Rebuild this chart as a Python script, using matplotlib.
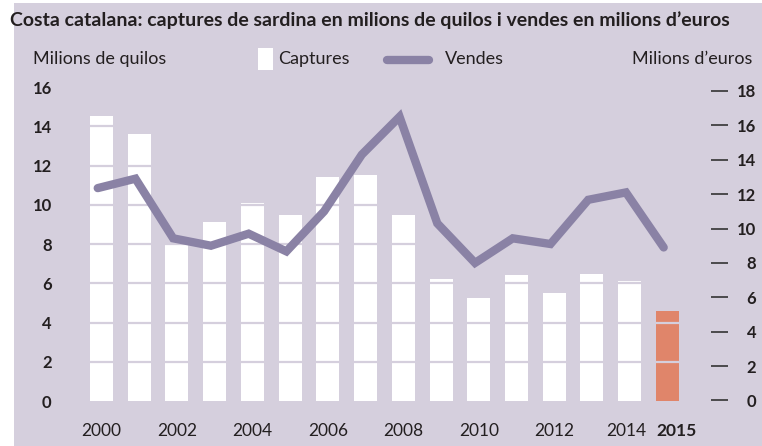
import matplotlib
matplotlib.use("Agg")
import matplotlib.pyplot as plt
from matplotlib.patches import Rectangle
from matplotlib.lines import Line2D
from matplotlib.transforms import ScaledTranslation

W, H = 762, 446
BG = "#d5cfdd"
LINE_C = "#8a82a5"
BAR_C = "white"
LAST_C = "#e0856a"
TXT = "#231f20"

years = list(range(2000, 2016))
captures = [14.5, 13.6, 8.0, 9.1, 10.1, 9.5, 11.4, 11.5, 9.5,
            6.2, 5.25, 6.43, 5.5, 6.46, 6.1, 4.6]
vendes = [12.35, 12.9, 9.43, 9.0, 9.7, 8.67, 11.0, 14.3, 16.5,
          10.3, 8.0, 9.43, 9.1, 11.67, 12.1, 8.9]
xtick_years = [2000, 2002, 2004, 2006, 2008, 2010, 2012, 2014, 2015]
left_ticks = list(range(0, 17, 2))
right_ticks = list(range(0, 19, 2))

plt.rcParams["font.family"] = ["Lato", "DejaVu Sans"]


def fx(px):
    return px / W


def fy(py):
    return 1 - py / H


fig = plt.figure(figsize=(W / 100, H / 100), dpi=100)
fig.patches.append(Rectangle((fx(14), 0), 1 - fx(14), fy(3), transform=fig.transFigure,
                             facecolor=BG, edgecolor="none", zorder=-10))

# axes box in pixels: left 60, right 711, top 77, bottom 401
ax = fig.add_axes([fx(60), fy(401), fx(711) - fx(60), fy(77) - fy(401)])
ax.set_facecolor("none")
px_per_year = 37.73
ax.set_xlim(2000 - (101.5 - 60) / px_per_year, 2000 + (711 - 101.5) / px_per_year)
ax.set_ylim(0, (401 - 77) / 19.625)

colors = [BAR_C] * (len(years) - 1) + [LAST_C]
ax.bar(years, captures, width=0.61, color=colors, zorder=2)
for t in left_ticks[1:]:
    ax.axhline(t, color=BG, linewidth=1.6, zorder=3)

for s in ax.spines.values():
    s.set_visible(False)
ax.set_yticks(left_ticks)
ax.tick_params(axis="y", length=0, pad=6, labelsize=12, labelcolor=TXT)
for lab in ax.get_yticklabels():
    lab.set_fontweight("bold")
ax.set_xticks(xtick_years)
ax.set_xticklabels([str(y) for y in xtick_years])
ax.tick_params(axis="x", length=0, pad=16, labelsize=12.5, labelcolor=TXT)
xlabs = ax.get_xticklabels()
xlabs[-1].set_fontweight("bold")
# nudge the last two labels apart like the original
xlabs[-2].set_transform(xlabs[-2].get_transform() + ScaledTranslation(-3 / 100, 0, fig.dpi_scale_trans))
xlabs[-1].set_transform(xlabs[-1].get_transform() + ScaledTranslation(9 / 100, 0, fig.dpi_scale_trans))

ax2 = ax.twinx()
ax2.set_ylim(-0.03, (401.5 - 77) / 17.25)
ax2.plot([y - 0.1 for y in years], vendes, color=LINE_C, linewidth=6,
         solid_capstyle="round", solid_joinstyle="miter", zorder=5)
for s in ax2.spines.values():
    s.set_visible(False)
ax2.set_yticks(right_ticks)
ax2.tick_params(axis="y", direction="out", length=12.5, width=1.2, color="#333333",
                pad=20, labelsize=12, labelcolor=TXT)
for lab in ax2.get_yticklabels():
    lab.set_fontweight("bold")
    lab.set_horizontalalignment("right")

fig.text(fx(10), fy(20), "Costa catalana: captures de sardina en milions de quilos i vendes en milions d\u2019euros",
         fontsize=14, fontweight="bold", color=TXT, va="center", ha="left")
fig.text(fx(33), fy(59), "Milions de quilos", fontsize=13, color=TXT, va="center", ha="left")
fig.text(fx(752), fy(59), "Milions d\u2019euros", fontsize=13, color=TXT, va="center", ha="right")
fig.patches.append(Rectangle((fx(258), fy(70)), fx(273) - fx(258), fy(48) - fy(70),
                             transform=fig.transFigure, facecolor="white", edgecolor="none"))
fig.text(fx(278), fy(59), "Captures", fontsize=13, color=TXT, va="center", ha="left")
fig.lines.append(Line2D([fx(387), fx(429)], [fy(60), fy(60)], transform=fig.transFigure,
                        color=LINE_C, linewidth=6, solid_capstyle="round"))
fig.text(fx(445), fy(59), "Vendes", fontsize=13, color=TXT, va="center", ha="left")

fig.savefig("out.png", dpi=100)
